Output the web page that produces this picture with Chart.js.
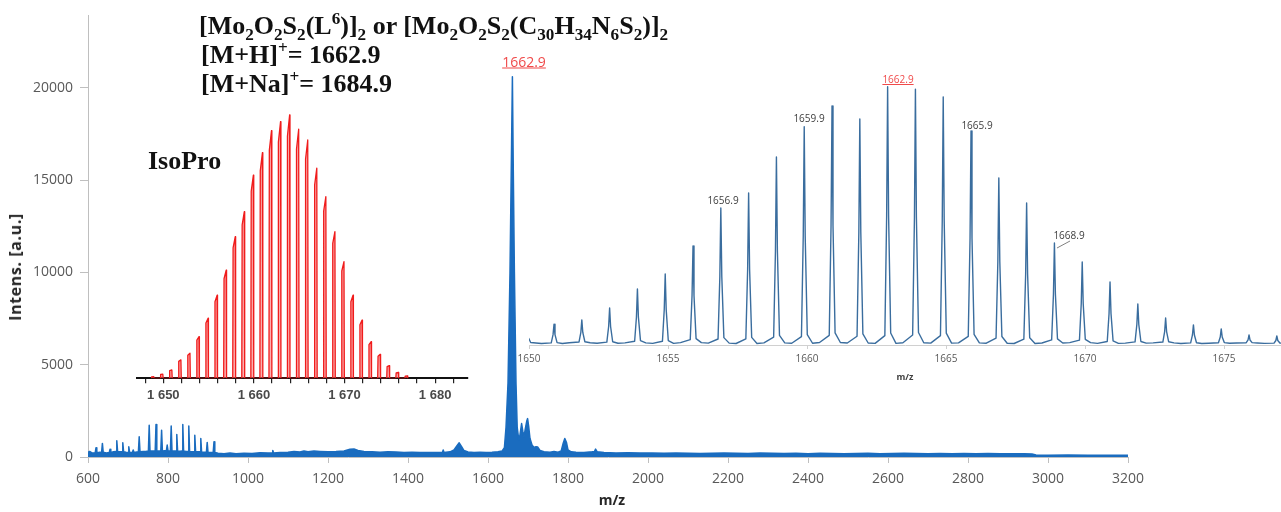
<!DOCTYPE html>
<html>
<head>
<meta charset="utf-8">
<script src="https://cdn.jsdelivr.net/npm/chart.js@4.4.1/dist/chart.umd.min.js"></script>
<style>
  body { margin: 0; background: #fff; width: 1281px; height: 512px; overflow: hidden; position: relative; }
  canvas { position: absolute; }
  #main { left: 0; top: 0; }
  #zoom { left: 500px; top: 60px; }
  #iso { left: 100px; top: 80px; }
  .txt { position: absolute; white-space: nowrap; }
  .c { transform: translate(-50%, -50%); }
  .formula { font-family: 'Liberation Serif', serif; font-weight: bold; font-size: 26px; line-height: 1; color: #111; }
  .formula sub, .formula sup { font-size: 0.66em; line-height: 0; }
  .axt { font-family: 'Open Sans', sans-serif; font-weight: bold; font-size: 14px; color: #262626; }
  .pk { font-family: 'Open Sans', sans-serif; font-size: 10px; color: #404040; }
  .red { color: #f04a4a; text-decoration: underline; }
</style>
</head>
<body>
<canvas id="main" width="1281" height="512"></canvas>
<canvas id="iso" width="390" height="340"></canvas>
<canvas id="zoom" width="781" height="320"></canvas>

<div class="txt formula" style="left:199px; top:13px;">[Mo<sub>2</sub>O<sub>2</sub>S<sub>2</sub>(L<sup>6</sup>)]<sub>2</sub> or [Mo<sub>2</sub>O<sub>2</sub>S<sub>2</sub>(C<sub>30</sub>H<sub>34</sub>N<sub>6</sub>S<sub>2</sub>)]<sub>2</sub></div>
<div class="txt formula" style="left:201px; top:42px;">[M+H]<sup>+</sup>= 1662.9</div>
<div class="txt formula" style="left:201px; top:71px;">[M+Na]<sup>+</sup>= 1684.9</div>
<div class="txt formula" style="left:148px; top:148px;">IsoPro</div>

<div class="txt axt c" style="left:15px; top:267px; font-size:16px; letter-spacing:0.6px; transform: translate(-50%, -50%) rotate(-90deg);">Intens. [a.u.]</div>
<div class="txt axt c" style="left:612px; top:499px;">m/z</div>
<div class="txt c red" style="left:524px; top:61px; font-family:'Open Sans', sans-serif; font-size:14px;">1662.9</div>

<div class="txt pk c red" style="left:898px; top:79px;">1662.9</div>
<div class="txt pk c" style="left:723px; top:200px;">1656.9</div>
<div class="txt pk c" style="left:809px; top:118px;">1659.9</div>
<div class="txt pk c" style="left:977px; top:125px;">1665.9</div>
<div class="txt pk c" style="left:1069px; top:235px;">1668.9</div>
<div class="txt pk c" style="left:905px; top:376px; font-weight:bold; font-size:9px;">m/z</div>
<svg style="position:absolute; left:0; top:0;" width="1281" height="512">
  <line x1="1057" y1="248" x2="1070" y2="241" stroke="#808080" stroke-width="1"/>
</svg>

<script>
// full spectrum (m/z, intensity)
const specMz = [600, 604, 610, 618, 620, 622, 630, 634, 636, 638, 646, 653, 655, 657, 664, 670, 672, 674, 680, 685,
  687, 689, 695, 700, 702, 704, 711, 713, 715, 722, 726, 728, 730, 738, 746, 751, 753, 755, 762, 768,
  770, 772, 778, 782, 784, 786, 792, 796, 798, 800, 806, 808, 810, 816, 820, 822, 824, 830, 835, 837,
  839, 845, 850, 852, 854, 860, 865, 867, 869, 875, 880, 882, 884, 890, 896, 898, 900, 906, 913, 915,
  917, 925, 940, 955, 970, 990, 1010, 1030, 1050, 1060, 1062, 1064, 1080, 1100, 1115, 1130, 1140, 1150, 1165, 1180,
  1200, 1220, 1240, 1255, 1265, 1275, 1290, 1310, 1330, 1350, 1370, 1390, 1410, 1430, 1450, 1470, 1486, 1488, 1490, 1505,
  1515, 1522, 1528, 1534, 1540, 1550, 1565, 1580, 1595, 1610, 1625, 1635, 1641, 1645, 1650, 1655, 1659, 1661, 1663, 1666,
  1670, 1673, 1677, 1680, 1684, 1687, 1690, 1693, 1697, 1699, 1702, 1705, 1710, 1715, 1720, 1724, 1730, 1740, 1755, 1765,
  1775, 1783, 1788, 1792, 1796, 1800, 1808, 1820, 1840, 1860, 1866, 1869, 1873, 1890, 1920, 1950, 1980, 2010, 2040, 2070,
  2100, 2130, 2160, 2190, 2220, 2250, 2280, 2310, 2340, 2370, 2400, 2430, 2460, 2490, 2520, 2550, 2580, 2610, 2640, 2670,
  2700, 2730, 2760, 2790, 2820, 2850, 2880, 2910, 2940, 2960, 2970, 3000, 3050, 3100, 3150, 3200, 3218];
const specInt = [250, 300, 220, 230, 500, 230, 260, 240, 735, 260, 220, 240, 414, 240, 280, 300, 877, 300, 280, 280,
  770, 280, 260, 250, 554, 250, 260, 376, 250, 270, 280, 1091, 280, 300, 310, 320, 1720, 320, 330, 330,
  1756, 330, 320, 330, 1452, 330, 340, 340, 645, 330, 330, 1683, 330, 320, 330, 1220, 320, 310, 320, 1756,
  320, 300, 300, 1683, 300, 290, 290, 1183, 290, 280, 280, 1005, 270, 260, 260, 790, 260, 250, 260, 823,
  250, 200, 170, 220, 180, 200, 190, 230, 210, 220, 350, 220, 240, 260, 300, 270, 330, 290, 320, 300,
  280, 300, 330, 420, 430, 350, 300, 280, 260, 290, 270, 250, 260, 240, 250, 240, 250, 380, 250, 280,
  380, 600, 770, 560, 350, 270, 250, 260, 250, 260, 280, 320, 500, 1600, 4000, 10000, 17000, 20600, 16000, 10000,
  4000, 1600, 914, 1200, 1810, 1400, 1100, 1500, 1950, 2080, 1600, 1000, 650, 520, 560, 540, 350, 280, 260, 300,
  260, 330, 750, 1005, 800, 380, 280, 260, 250, 280, 300, 430, 280, 240, 220, 230, 210, 220, 200, 210,
  200, 190, 200, 210, 200, 190, 220, 200, 190, 200, 180, 200, 190, 180, 190, 200, 180, 190, 200, 190,
  180, 190, 180, 190, 180, 190, 170, 180, 170, 160, 110, 100, 105, 100, 100, 95, 90];
const mainXTicks = [600, 800, 1000, 1200, 1400, 1600, 1800, 2000, 2200, 2400, 2600, 2800, 3000, 3200];
const mainYTicks = [0, 5000, 10000, 15000, 20000];

// zoomed isotope cluster, measured
const zoomPeakMz = [1649.95, 1650.9, 1651.9, 1652.9, 1653.9, 1654.9, 1655.9, 1656.9, 1657.9, 1658.9,
  1659.9, 1660.9, 1661.9, 1662.9, 1663.9, 1664.9, 1665.9, 1666.9, 1667.9, 1668.9,
  1669.9, 1670.9, 1671.9, 1672.9, 1673.9, 1674.9, 1675.9, 1676.9];
const zoomPeakInt = [1100, 1650, 2000, 2950, 4470, 5670, 7900, 10930, 12130, 15000,
  17400, 19070, 18030, 20600, 20400, 19790, 17080, 13330, 11330, 8140,
  6620, 5030, 3270, 2150, 1600, 1280, 800, 720];
const zoomNoise = [160, 120, 180, 140, 170, 130, 190, 150, 120, 170, 140, 200, 160, 130,
  180, 150, 170, 140, 120, 160, 190, 130, 150, 170, 120, 140, 160, 130];
const zoomTicks = [1650, 1655, 1660, 1665, 1670, 1675];

// IsoPro simulated pattern (% relative abundance)
const isoMz = [1649, 1650, 1651, 1652, 1653, 1654, 1655, 1656, 1657, 1658, 1659, 1660, 1661, 1662, 1663,
  1664, 1665, 1666, 1667, 1668, 1669, 1670, 1671, 1672, 1673, 1674, 1675, 1676, 1677];
const isoAbund = [0.6, 1.6, 3.2, 7, 9.5, 15.8, 22.8, 31.6, 41.1, 53.8, 63.3, 77.2, 85.7, 94.1, 97.5,
  100, 94.6, 90.5, 79.8, 69, 55.7, 44.3, 31.6, 22.1, 13.9, 9.1, 4.8, 2.2, 0.9];
const isoTicks = [1648, 1650, 1652, 1654, 1656, 1658, 1660, 1662, 1664, 1666, 1668, 1670, 1672, 1674, 1676, 1678, 1680, 1682];
const isoLabels = [1650, 1660, 1670, 1680];

const tickFont = { family: 'Open Sans', size: 14 };
const plain = v => String(v);

new Chart(document.getElementById('main'), {
  type: 'line',
  data: {
    datasets: [{
      data: specMz.map((x, i) => ({ x: x, y: specInt[i] })),
      borderColor: '#1a6cbf',
      backgroundColor: '#1a6cbf',
      borderWidth: 1.5,
      borderJoinStyle: 'round',
      pointRadius: 0,
      tension: 0,
      fill: 'origin',
      clip: { left: 0, top: 0, right: 10, bottom: 0 }
    }]
  },
  options: {
    responsive: false,
    animation: false,
    events: [],
    layout: { autoPadding: false, padding: { left: 28, right: 153, top: 12, bottom: 0 } },
    plugins: { legend: { display: false }, tooltip: { enabled: false } },
    scales: {
      x: {
        type: 'linear', min: 600, max: 3200,
        afterBuildTicks: s => { s.ticks = mainXTicks.map(v => ({ value: v })); },
        afterFit: s => { s.height = 55; },
        grid: { drawOnChartArea: false, tickLength: 6, color: '#bfbfbf' },
        border: { color: '#bfbfbf' },
        ticks: { color: '#595959', font: tickFont, padding: 8, maxRotation: 0, autoSkip: false, callback: plain }
      },
      y: {
        min: 0, max: 23925,
        afterBuildTicks: s => { s.ticks = mainYTicks.map(v => ({ value: v })); },
        afterFit: s => { s.width = 60; },
        grid: { drawOnChartArea: false, tickLength: 8, color: '#bfbfbf' },
        border: { color: '#bfbfbf' },
        ticks: { color: '#595959', font: tickFont, padding: 7, callback: plain }
      }
    }
  }
});

// build narrow peak profiles for the zoom view
const zoomPts = [];
zoomPeakMz.forEach((m, i) => {
  const h = zoomPeakInt[i], n = zoomNoise[i];
  zoomPts.push({ x: m - 0.45, y: n });
  zoomPts.push({ x: m - 0.1, y: n + h * 0.03 });
  zoomPts.push({ x: m - 0.035, y: h * 0.5 });
  zoomPts.push({ x: m, y: h });
  zoomPts.push({ x: m + 0.035, y: h * 0.5 });
  zoomPts.push({ x: m + 0.11, y: n + h * 0.04 });
  zoomPts.push({ x: m + 0.3, y: n });
});

new Chart(document.getElementById('zoom'), {
  type: 'line',
  data: {
    datasets: [{
      data: zoomPts,
      borderColor: '#3a6d9e',
      borderWidth: 1.4,
      borderJoinStyle: 'round',
      pointRadius: 0,
      tension: 0,
      fill: false
    }]
  },
  options: {
    responsive: false,
    animation: false,
    events: [],
    layout: { autoPadding: false, padding: { left: 29, right: 0, top: 20, bottom: 0 } },
    plugins: { legend: { display: false }, tooltip: { enabled: false } },
    scales: {
      x: {
        type: 'linear', min: 1650, max: 1677.05,
        afterBuildTicks: s => { s.ticks = zoomTicks.map(v => ({ value: v })); },
        afterFit: s => { s.height = 35; },
        grid: { drawOnChartArea: false, tickLength: 4, color: '#d0d0d0' },
        border: { color: '#d0d0d0' },
        ticks: { color: '#595959', font: { family: 'Open Sans', size: 10 }, padding: 4, maxRotation: 0, autoSkip: false, callback: plain }
      },
      y: { display: false, min: 0, max: 21134 }
    }
  }
});

// IsoPro pattern
const isoPts = [];
isoMz.forEach((m, i) => {
  const h = isoAbund[i];
  isoPts.push({ x: m - 0.34, y: 0 });
  isoPts.push({ x: m - 0.3, y: h * 0.92 });
  isoPts.push({ x: m - 0.06, y: h });
  isoPts.push({ x: m - 0.02, y: 0 });
});

new Chart(document.getElementById('iso'), {
  type: 'line',
  data: {
    datasets: [{
      data: isoPts,
      borderColor: '#f01c1c',
      backgroundColor: 'rgba(250, 110, 110, 0.55)',
      borderWidth: 1.3,
      borderJoinStyle: 'round',
      pointRadius: 0,
      tension: 0,
      fill: 'origin'
    }]
  },
  options: {
    responsive: false,
    animation: false,
    events: [],
    layout: { autoPadding: false, padding: { left: 36.7, right: 22, top: 20, bottom: 0 } },
    plugins: { legend: { display: false }, tooltip: { enabled: false } },
    scales: {
      x: {
        type: 'linear', min: 1647.06, max: 1683.63,
        afterBuildTicks: s => { s.ticks = isoTicks.map(v => ({ value: v })); },
        afterFit: s => { s.height = 41.7; },
        grid: { drawOnChartArea: false, tickLength: 5, color: '#222', lineWidth: 1.2 },
        border: { color: '#111', width: 2 },
        ticks: {
          color: '#4a4a4a', font: { family: 'Liberation Sans', size: 13, weight: 'bold' }, padding: 4,
          maxRotation: 0, autoSkip: false,
          callback: v => isoLabels.includes(v) ? String(v).replace(/^(\d)(\d{3})$/, '$1 $2') : ''
        }
      },
      y: { display: false, min: 0, max: 105.7 }
    }
  }
});
</script>
</body>
</html>
